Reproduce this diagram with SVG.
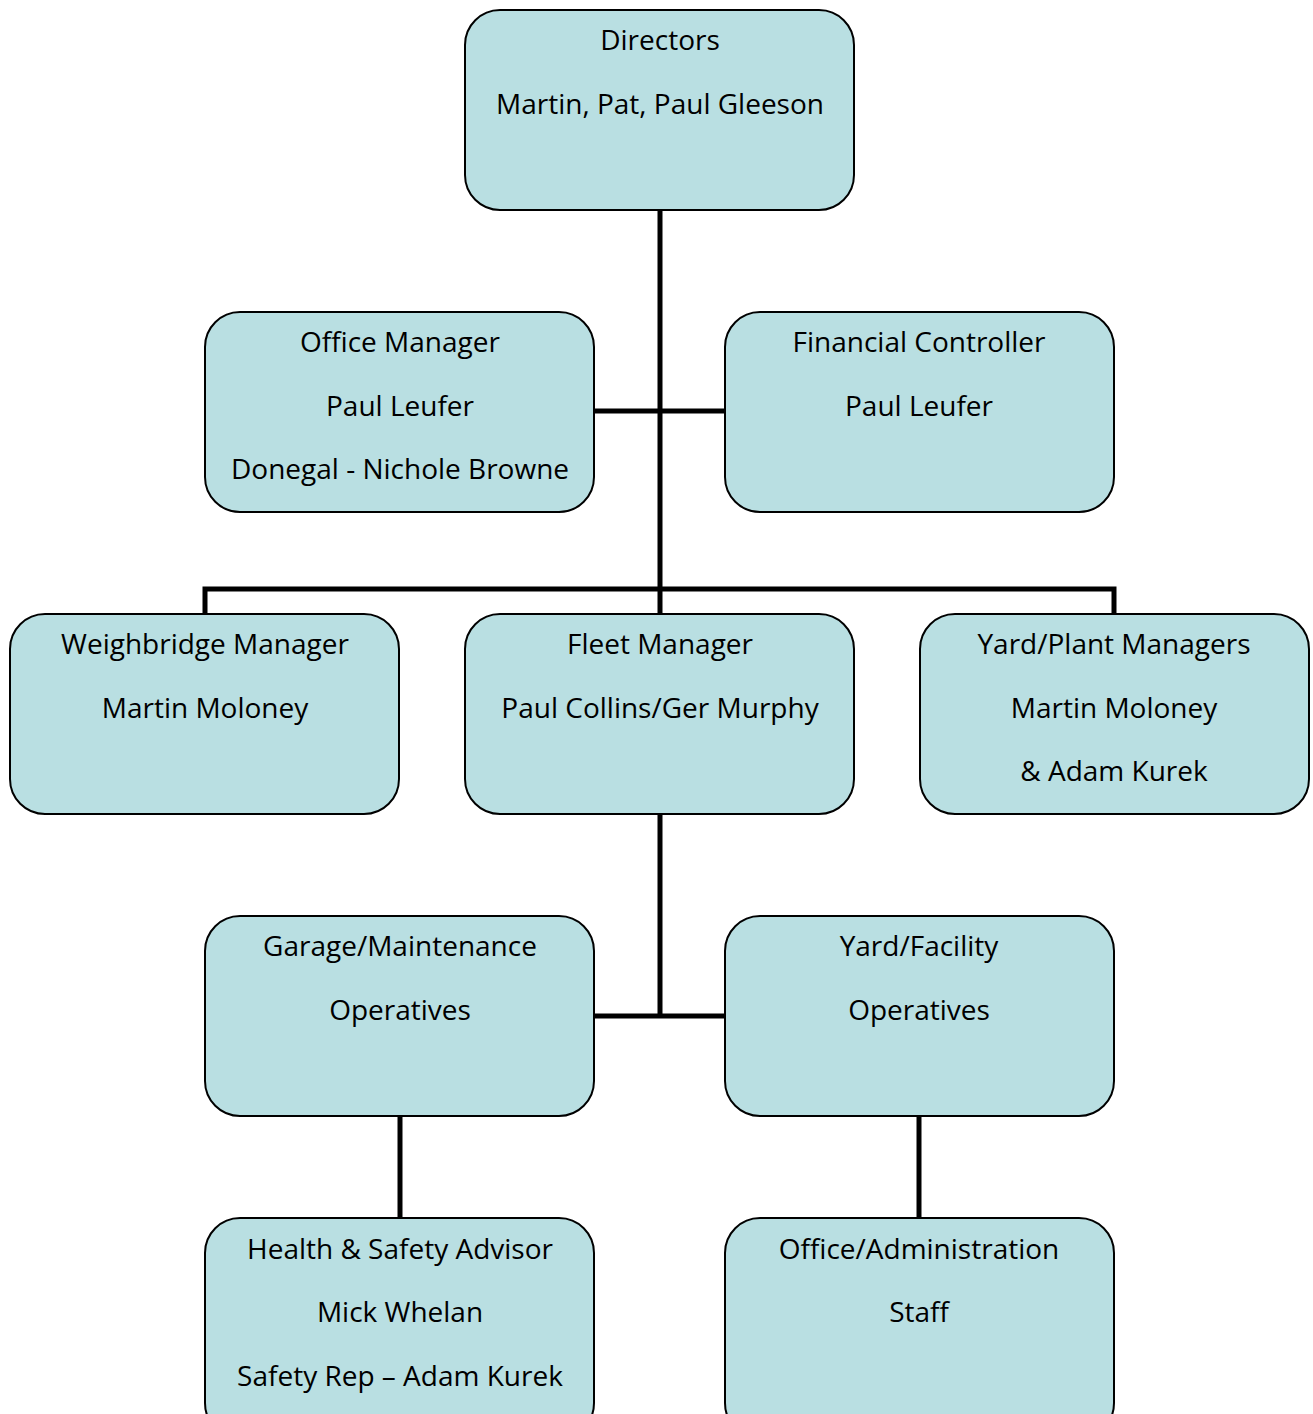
<svg xmlns="http://www.w3.org/2000/svg" width="1313" height="1414" viewBox="0 0 1313 1414">
<style>
.box{fill:#b9dfe2;stroke:#000;stroke-width:2}
.t{font-family:"Open Sans","Noto Sans",sans-serif;font-size:28px;fill:#000;text-anchor:middle}
.c{stroke:#000;stroke-width:5;fill:none}
</style>
<rect width="1313" height="1414" fill="#fff"/>
<g id="connectors">
<path class="c" d="M660 210V614"/>
<path class="c" d="M594 411H725"/>
<path class="c" d="M205 614V589H1114V614"/>
<path class="c" d="M660 814V1016"/>
<path class="c" d="M594 1016H725"/>
<path class="c" d="M400 1116V1218"/>
<path class="c" d="M919 1116V1218"/>
</g>
<g id="directors">
<rect class="box" x="465" y="10" width="389" height="200" rx="35"/>
<text class="t" x="660" y="50">Directors</text>
<text class="t" x="660" y="114">Martin, Pat, Paul Gleeson</text>
</g>
<g id="office-manager">
<rect class="box" x="205" y="312" width="389" height="200" rx="35"/>
<text class="t" x="400" y="352">Office Manager</text>
<text class="t" x="400" y="416">Paul Leufer</text>
<text class="t" x="400" y="479">Donegal - Nichole Browne</text>
</g>
<g id="financial-controller">
<rect class="box" x="725" y="312" width="389" height="200" rx="35"/>
<text class="t" x="919" y="352">Financial Controller</text>
<text class="t" x="919" y="416">Paul Leufer</text>
</g>
<g id="weighbridge-manager">
<rect class="box" x="10" y="614" width="389" height="200" rx="35"/>
<text class="t" x="205" y="654">Weighbridge Manager</text>
<text class="t" x="205" y="718">Martin Moloney</text>
</g>
<g id="fleet-manager">
<rect class="box" x="465" y="614" width="389" height="200" rx="35"/>
<text class="t" x="660" y="654">Fleet Manager</text>
<text class="t" x="660" y="718">Paul Collins/Ger Murphy</text>
</g>
<g id="yard-plant-managers">
<rect class="box" x="920" y="614" width="389" height="200" rx="35"/>
<text class="t" x="1114" y="654">Yard/Plant Managers</text>
<text class="t" x="1114" y="718">Martin Moloney</text>
<text class="t" x="1114" y="781">&amp; Adam Kurek</text>
</g>
<g id="garage-maintenance">
<rect class="box" x="205" y="916" width="389" height="200" rx="35"/>
<text class="t" x="400" y="956">Garage/Maintenance</text>
<text class="t" x="400" y="1020">Operatives</text>
</g>
<g id="yard-facility">
<rect class="box" x="725" y="916" width="389" height="200" rx="35"/>
<text class="t" x="919" y="956">Yard/Facility</text>
<text class="t" x="919" y="1020">Operatives</text>
</g>
<g id="health-safety">
<rect class="box" x="205" y="1218" width="389" height="220" rx="35"/>
<text class="t" x="400" y="1259">Health &amp; Safety Advisor</text>
<text class="t" x="400" y="1322">Mick Whelan</text>
<text class="t" x="400" y="1386">Safety Rep – Adam Kurek</text>
</g>
<g id="office-admin">
<rect class="box" x="725" y="1218" width="389" height="220" rx="35"/>
<text class="t" x="919" y="1259">Office/Administration</text>
<text class="t" x="919" y="1322">Staff</text>
</g>
</svg>
